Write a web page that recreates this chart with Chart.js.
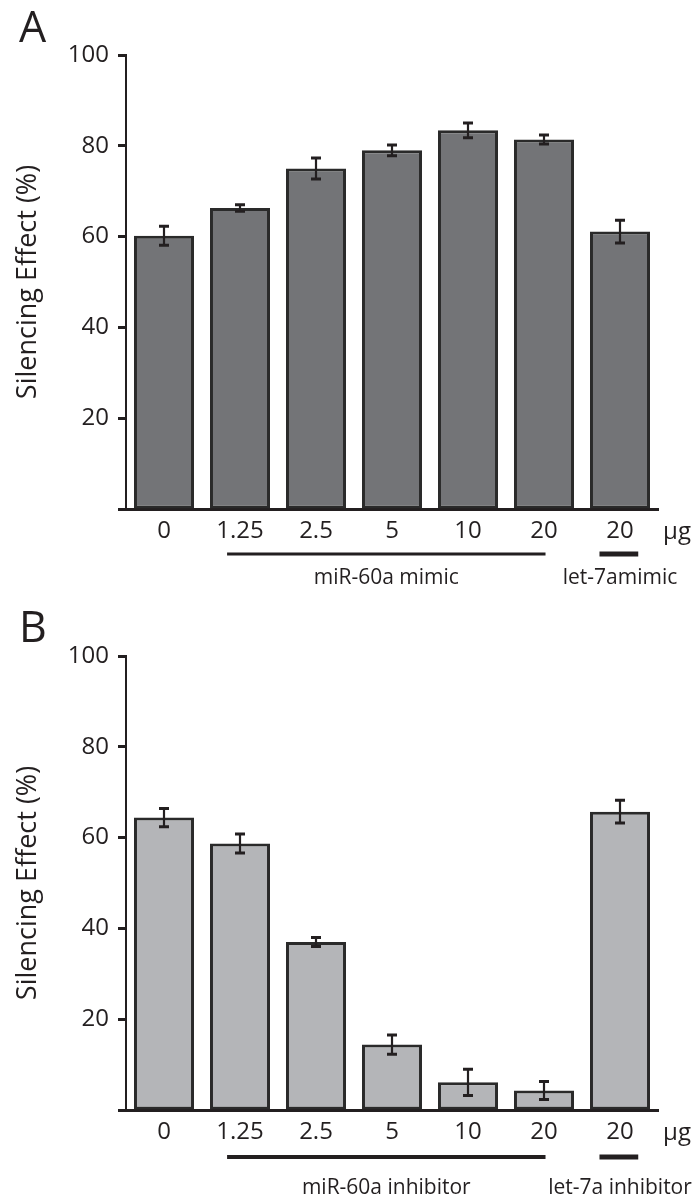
<!DOCTYPE html>
<html>
<head>
<meta charset="utf-8">
<script src="https://cdn.jsdelivr.net/npm/chart.js@4.4.1/dist/chart.umd.min.js"></script>
<style>
  html, body { margin: 0; padding: 0; background: #ffffff; }
  #wrap { position: relative; width: 695px; height: 1197px; overflow: hidden; }
  canvas { position: absolute; left: 0; }
</style>
</head>
<body>
<div id="wrap">
  <canvas id="panelA" width="695" height="600" style="top:0px"></canvas>
  <canvas id="panelB" width="695" height="597" style="top:600px"></canvas>
</div>
<script>
// Doses (µg) on the x axis, shared by both panels
const doseLabels = ['0', '1.25', '2.5', '5', '10', '20', '20'];

// Panel A: miR-60a mimic / let-7a mimic
const mimicValues = [60.2, 66.3, 75.0, 79.0, 83.4, 81.4, 61.1];
const mimicErrors = [2.1, 0.7, 2.3, 1.2, 1.6, 1.0, 2.5];
const mimicGroups = ['miR-60a mimic', 'let-7amimic'];

// Panel B: miR-60a inhibitor / let-7a inhibitor
const inhibitorValues = [64.4, 58.7, 37.0, 14.4, 6.1, 4.3, 65.7];
const inhibitorErrors = [2.0, 2.1, 1.0, 2.1, 2.9, 2.0, 2.5];
const inhibitorGroups = ['miR-60a inhibitor', 'let-7a inhibitor'];

// Category index ranges underlined by each group bar
const groupSpans = [[1, 5], [6, 6]];

const yMin = 0, yMax = 100, yStep = 20;
const yTitle = 'Silencing Effect (%)';
const unitLabel = 'μg';

const INK = '#231f20';
const FONT = "'Open Sans', 'Noto Sans', sans-serif";

const annotate = {
  id: 'annotate',
  afterDatasetsDraw(chart, args, o) {
    const ctx = chart.ctx;
    const ys = chart.scales.y;
    const meta = chart.getDatasetMeta(0);
    ctx.save();
    ctx.strokeStyle = INK;
    ctx.lineCap = 'butt';
    meta.data.forEach((bar, i) => {
      const v = o.values[i], e = o.errors[i];
      const yTop = ys.getPixelForValue(v + e);
      const yBot = ys.getPixelForValue(v - e);
      ctx.lineWidth = 2.2;
      ctx.beginPath();
      ctx.moveTo(bar.x, yTop);
      ctx.lineTo(bar.x, yBot);
      ctx.stroke();
      ctx.lineWidth = 3;
      ctx.beginPath();
      ctx.moveTo(bar.x - 5, yTop); ctx.lineTo(bar.x + 5, yTop);
      ctx.moveTo(bar.x - 5, yBot); ctx.lineTo(bar.x + 5, yBot);
      ctx.stroke();
    });
    ctx.restore();
  },
  afterDraw(chart, args, o) {
    const ctx = chart.ctx;
    const xs = chart.scales.x;
    const w = xs.getPixelForValue(1) - xs.getPixelForValue(0);
    ctx.save();
    ctx.fillStyle = INK;
    ctx.strokeStyle = INK;

    // panel letter
    ctx.font = '43px ' + FONT;
    ctx.textAlign = 'left';
    ctx.textBaseline = 'alphabetic';
    ctx.fillText(o.letter, 19, 42);

    // unit next to the last dose label
    ctx.font = '24px ' + FONT;
    ctx.textAlign = 'center';
    ctx.textBaseline = 'middle';
    ctx.fillText(unitLabel, xs.getPixelForValue(doseLabels.length - 1) + 0.75 * w, xs.top + o.tickMid);

    // group bars and names
    groupSpans.forEach((span, g) => {
      const single = span[0] === span[1];
      const x0 = xs.getPixelForValue(span[0]) - (single ? 0.27 : 0.17) * w;
      const x1 = xs.getPixelForValue(span[1]) + (single ? 0.24 : 0.02) * w;
      ctx.lineWidth = single ? 5 : o.lineWidth;
      ctx.beginPath();
      ctx.moveTo(x0, xs.top + o.lineOffset);
      ctx.lineTo(x1, xs.top + o.lineOffset);
      ctx.stroke();
      ctx.font = '21px ' + FONT;
      const cx = single ? xs.getPixelForValue(span[0]) : (x0 + x1) / 2;
      ctx.fillText(o.groups[g], cx, xs.top + o.labelOffset);
    });
    ctx.restore();
  }
};

function makePanel(id, cfg) {
  const canvas = document.getElementById(id);
  const H = canvas.height;
  return new Chart(canvas, {
    type: 'bar',
    data: {
      labels: doseLabels,
      datasets: [{
        data: cfg.values,
        backgroundColor: cfg.fill,
        borderColor: '#2a2a2a',
        borderWidth: 3,
        borderSkipped: false,
        categoryPercentage: 1.0,
        barPercentage: 0.79
      }]
    },
    options: {
      responsive: false,
      animation: false,
      devicePixelRatio: 1,
      layout: { padding: { top: cfg.top, left: 0, right: 37, bottom: 0 } },
      plugins: {
        legend: { display: false },
        tooltip: { enabled: false },
        annotate: {
          values: cfg.values, errors: cfg.errors, groups: cfg.groups, letter: cfg.letter,
          tickMid: 23, lineOffset: cfg.lineOffset, lineWidth: cfg.lineWidth, labelOffset: cfg.labelOffset
        }
      },
      scales: {
        x: {
          offset: true,
          grid: { display: false, drawTicks: false },
          border: { display: true, width: 3, color: INK },
          ticks: { color: INK, font: { family: FONT, size: 24 }, padding: 8, maxRotation: 0, autoSkip: false },
          afterFit(scale) { scale.height = H - cfg.bottom; }
        },
        y: {
          min: yMin, max: yMax,
          grid: { display: true, drawOnChartArea: false, drawTicks: true, tickLength: 8, tickWidth: 3, tickColor: INK },
          border: { display: true, width: 2, color: INK },
          ticks: {
            stepSize: yStep, color: INK, padding: 9,
            font: { family: FONT, size: 24 },
            callback: v => (v === 0 ? '' : String(v))
          },
          title: {
            display: true, text: yTitle, color: INK,
            font: { family: FONT, size: 27 },
            padding: { top: 12, bottom: 0 }
          },
          afterFit(scale) { scale.width = 126; }
        }
      }
    },
    plugins: [annotate]
  });
}

makePanel('panelA', {
  values: mimicValues, errors: mimicErrors, groups: mimicGroups, letter: 'A',
  fill: '#737477', top: 55, bottom: 509, lineOffset: 45, lineWidth: 3, labelOffset: 69
});
makePanel('panelB', {
  values: inhibitorValues, errors: inhibitorErrors, groups: inhibitorGroups, letter: 'B',
  fill: '#b4b5b8', top: 56, bottom: 510, lineOffset: 47, lineWidth: 4, labelOffset: 78
});
</script>
</body>
</html>
